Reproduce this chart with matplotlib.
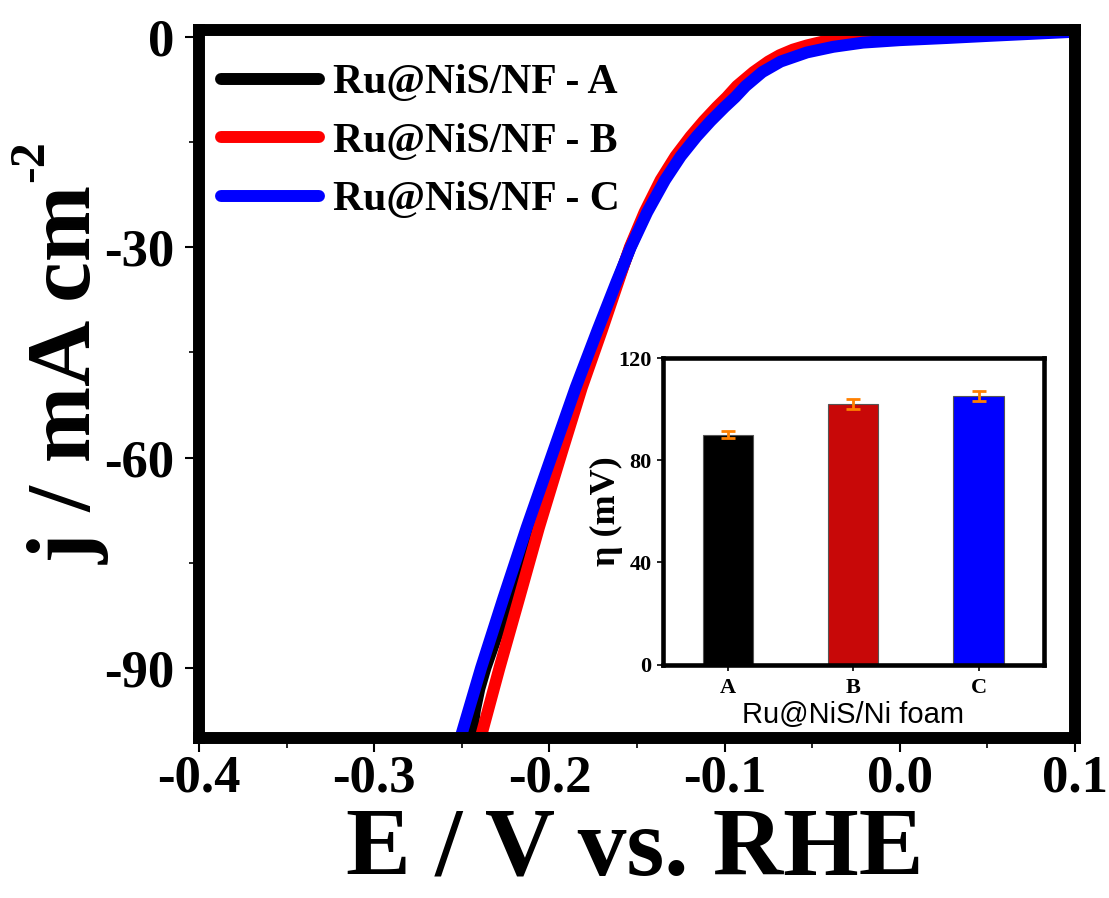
import matplotlib
matplotlib.use("Agg")
import matplotlib.pyplot as plt
from matplotlib.ticker import MultipleLocator

plt.rcParams['axes.unicode_minus'] = False

# ---------------- data ----------------
labels = ["Ru@NiS/NF - A", "Ru@NiS/NF - B", "Ru@NiS/NF - C"]
colors = ["#000000", "#FF0000", "#0000FF"]

# sample A (black)
j_A = [-104, -100, -96, -93, -90, -85, -80, -70, -58.9, -50, -41.8, -35, -30, -25,
       -20.4, -17, -14.2, -12, -10, -8.6, -7, -5, -3.5, -2.2, -1.4, -0.8, 0.0, 0.5, 0.8]
E_A = [-0.2465, -0.2447, -0.2425, -0.2400, -0.2365, -0.2295, -0.2230, -0.2100, -0.1955,
       -0.1833, -0.1712, -0.1613, -0.1538, -0.1450, -0.1352, -0.1265, -0.1178, -0.1100,
       -0.1022, -0.0964, -0.0905, -0.0810, -0.0715, -0.0585, -0.0470, -0.0350, -0.0120,
       0.0200, 0.1000]

# sample B (red)
j_B = [-104, -100, -90, -80, -70, -58.9, -50, -41.8, -35, -30, -25, -20.4, -17, -14.2,
       -12, -10, -8.6, -7, -5, -3.5, -2.6, -1.8, -1.2, -0.6, 0.0, 0.6, 1.0, 1.3, 1.6, 1.7]
E_B = [-0.2440, -0.2393, -0.2285, -0.2172, -0.2060, -0.1925, -0.1815, -0.1700, -0.1608,
       -0.1541, -0.1457, -0.1365, -0.1280, -0.1195, -0.1120, -0.1045, -0.0988, -0.0930,
       -0.0835, -0.0750, -0.0686, -0.0610, -0.0530, -0.0430, -0.0330, -0.0220, -0.0120,
       0.0000, 0.0500, 0.1000]

# sample C (blue)
j_C = [-104, -100, -90, -80, -70, -58.9, -50, -41.8, -35, -30, -25, -20.4, -17, -14.2,
       -12, -10, -8.6, -7, -5, -3.5, -2.2, -1.4, -0.8, -0.45, -0.14, 0.15, 0.45, 0.75]
E_C = [-0.2556, -0.2508, -0.2390, -0.2262, -0.2130, -0.1975, -0.1850, -0.1725, -0.1618,
       -0.1536, -0.1442, -0.1340, -0.1250, -0.1160, -0.1080, -0.1000, -0.0940, -0.0880,
       -0.0785, -0.0680, -0.0530, -0.0380, -0.0210, 0.0000, 0.0270, 0.0500, 0.0750, 0.1000]

bar_cats = ["A", "B", "C"]
bar_vals = [90, 102, 105]
bar_errs = [1.5, 2.0, 2.0]
bar_colors = ["#000000", "#C80808", "#0000FF"]

x_ticks = [-0.4, -0.3, -0.2, -0.1, 0.0, 0.1]
y_ticks = [0, -30, -60, -90]
inset_yticks = [0, 40, 80, 120]

# ---------------- figure ----------------
W, H = 1109, 898
fig = plt.figure(figsize=(W / 100, H / 100), dpi=100)
L, R, T, B = 199, 1075, 30, 738
ax = fig.add_axes([L / W, 1 - B / H, (R - L) / W, (B - T) / H])

serif = 'Liberation Serif'
lw = 8.6
for E, j, c, lab in zip([E_A, E_B, E_C], [j_A, j_B, j_C], colors, labels):
    ax.plot(E, j, color=c, lw=lw, label=lab, solid_capstyle='butt', solid_joinstyle='round')

ax.set_xlim(-0.4, 0.1)
ax.set_ylim(-100, 1)
ax.set_xticks(x_ticks)
ax.set_xticklabels([f"{v:.1f}" for v in x_ticks])
ax.set_yticks(y_ticks)
ax.set_yticklabels([str(v) for v in y_ticks])
ax.xaxis.set_minor_locator(MultipleLocator(0.05))
ax.yaxis.set_minor_locator(MultipleLocator(15))
ax.tick_params(which='major', direction='out', length=10, width=1.5, top=False, right=False)
ax.tick_params(which='minor', direction='out', length=7, width=1.2, top=False, right=False)
ax.tick_params(axis='x', which='major', pad=2)
ax.tick_params(axis='y', which='major', pad=7.5)
for s in ax.spines.values():
    s.set_linewidth(8.6)
for lab in ax.get_xticklabels() + ax.get_yticklabels():
    lab.set_fontfamily(serif)
    lab.set_fontweight('bold')
    lab.set_fontsize(38)

ax.set_xlabel("E / V vs. RHE", fontsize=70, fontfamily=serif, fontweight='bold',
              va='baseline')
ax.xaxis.set_label_coords(0.4977, (B - 875) / (B - T))
ax.set_ylabel("j / mA cm", fontsize=66, fontfamily=serif, fontweight='bold')
ax.yaxis.set_label_coords(-0.1016, 0.513)
# superscript of the y label
fig.text(8 / W, 1 - 182 / H, "-2", rotation=90, ha='left', va='bottom',
         fontsize=36, fontfamily=serif, fontweight='bold')

leg = ax.legend(loc='upper left', bbox_to_anchor=(0.0251, 0.952), frameon=False,
                prop={'family': serif, 'weight': 'bold', 'size': 30},
                handlelength=2.35, handletextpad=0.35, labelspacing=0.49,
                borderpad=0, borderaxespad=0)
for h in leg.get_lines():
    h.set_linewidth(8.6)
    h.set_solid_capstyle('round')

# ---------------- inset ----------------
il, ir, it, ib = 662.7, 1043.7, 358, 664.5
axi = fig.add_axes([il / W, 1 - ib / H, (ir - il) / W, (ib - it) / H])
axi.set_zorder(5)
xpos = list(range(len(bar_cats)))
axi.bar(xpos, bar_vals, width=0.4, color=bar_colors, edgecolor='#555555', linewidth=0.8,
        yerr=bar_errs, error_kw=dict(ecolor='#FF8000', elinewidth=2.0, capsize=5, capthick=2.0))
axi.set_xlim(-0.52, 2.52)
axi.set_ylim(0, 120)
axi.set_xticks(xpos)
axi.set_xticklabels(bar_cats)
axi.set_yticks(inset_yticks)
axi.set_yticklabels([str(v) for v in inset_yticks])
axi.tick_params(direction='out', length=4, width=1.2, top=False, right=False)
axi.tick_params(axis='x', pad=6)
axi.tick_params(axis='y', pad=4)
for s in axi.spines.values():
    s.set_linewidth(3.3)
for lab in axi.get_xticklabels() + axi.get_yticklabels():
    lab.set_fontfamily(serif)
    lab.set_fontweight('bold')
    lab.set_fontsize(16)
axi.set_ylabel("η (mV)", fontsize=26, fontfamily=serif, fontweight='bold')
axi.set_xlabel("Ru@NiS/Ni foam", fontsize=21, fontfamily='Liberation Sans')
axi.yaxis.set_label_coords(-0.104, 0.5)
axi.xaxis.set_label_coords(0.4995, -0.12)

fig.savefig("out.png", dpi=100)
